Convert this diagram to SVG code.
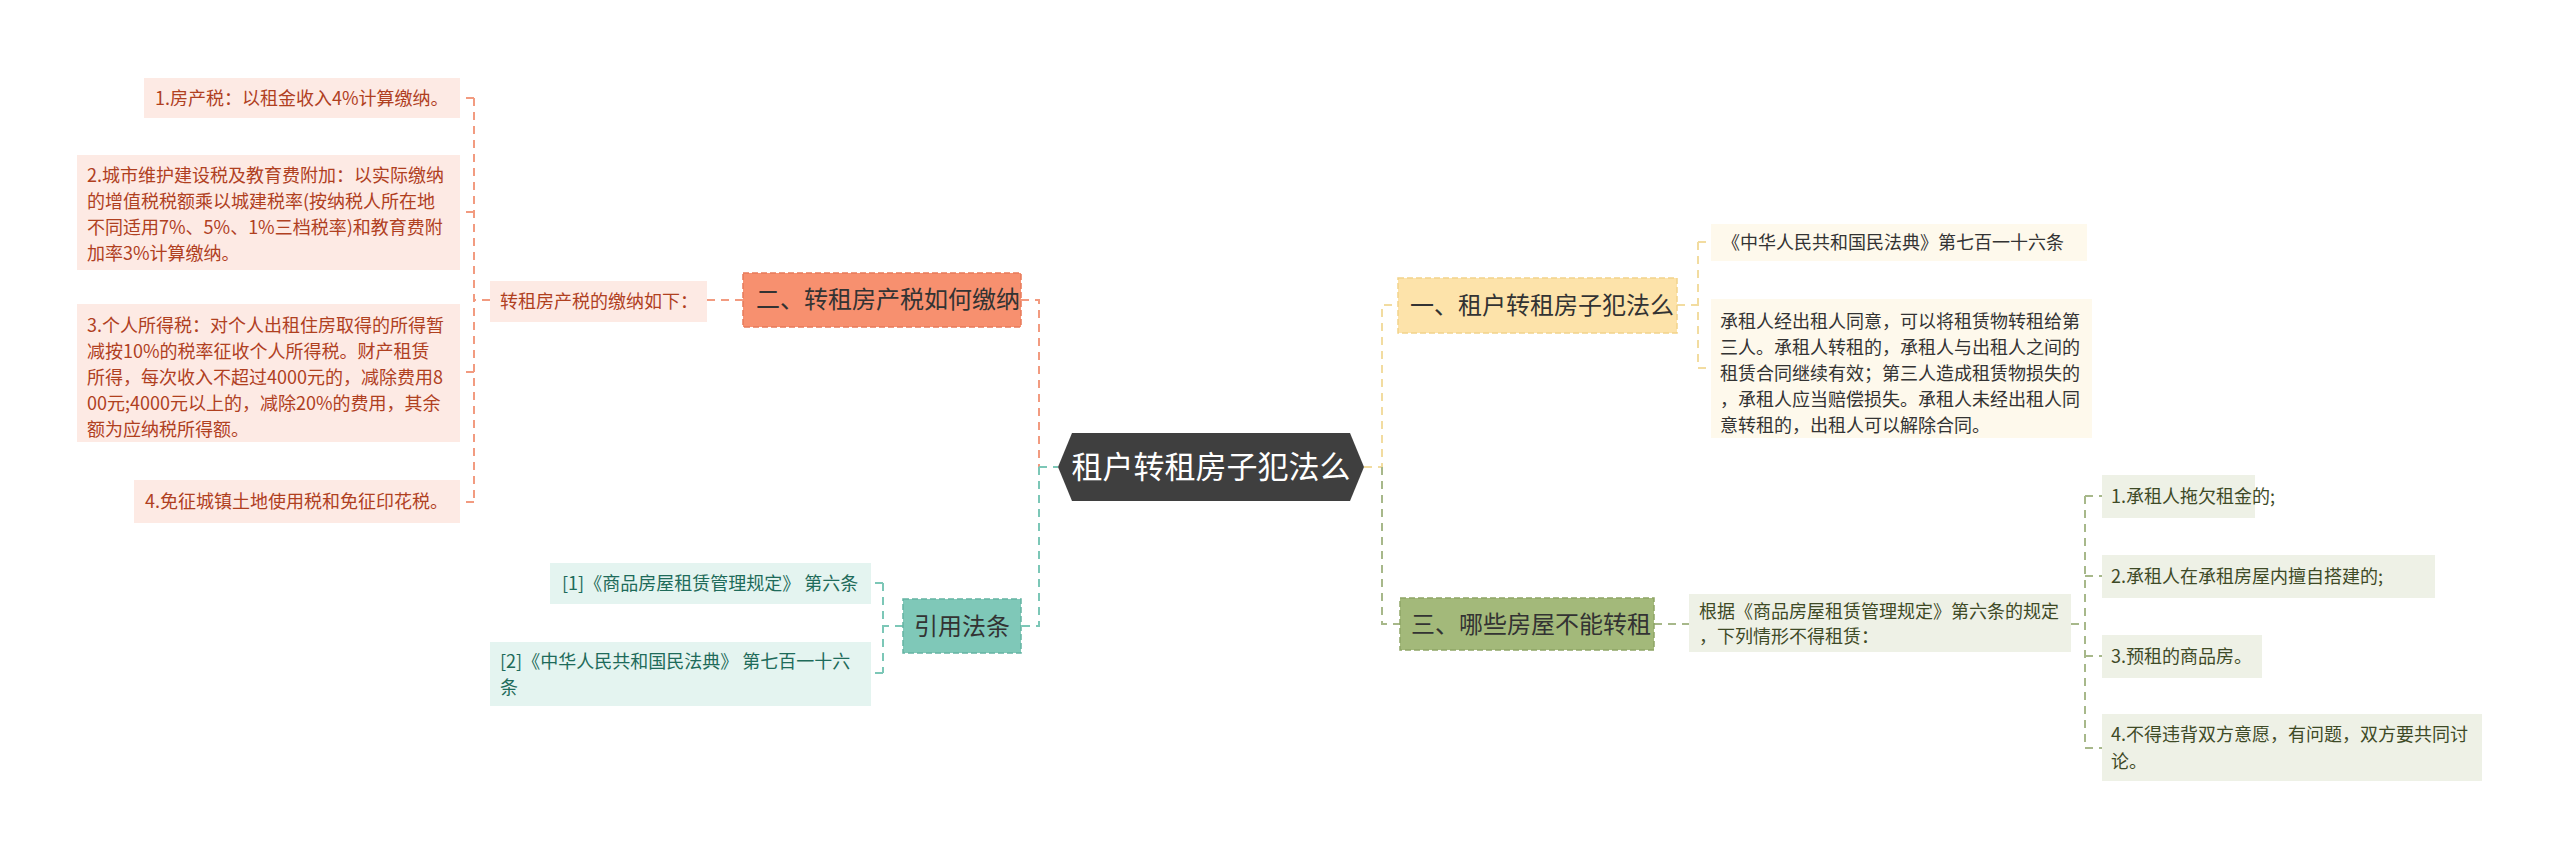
<svg xmlns="http://www.w3.org/2000/svg" width="2560" height="858" viewBox="0 0 2560 858">
<style>
text{font-family:"Noto Sans CJK SC","Liberation Sans",sans-serif}
.lf{font-size:18px}
.br{font-size:24px;fill:#333}
.c{fill:none;stroke-width:2;stroke-dasharray:8 6}
.o{stroke:#F29B80}.y{stroke:#F2DCA0}.g{stroke:#A7B88A}.t{stroke:#7CC7B7}
.bd{stroke-dasharray:6 3;stroke-width:1.5}
</style>
<rect width="2560" height="858" fill="#fff"/>
<g id="connectors">
<path class="c o" d="M1021 300H1039V467"/>
<path class="c t" d="M1039 467V626H1021M1039 467H1058"/>
<path class="c y" d="M1364 467H1382V305H1398"/>
<path class="c g" d="M1382 467V624H1400"/>
<path class="c o" d="M743 300H707"/>
<path class="c o" d="M490 300H474M474 98V502M474 98H460M474 212H460M474 372H460M474 502H460"/>
<path class="c y" d="M1677 305H1698M1698 242V368M1698 242H1711M1698 368H1711"/>
<path class="c g" d="M1654 624H1689"/>
<path class="c g" d="M2071 624H2085M2085 496V748M2085 496H2102M2085 576H2102M2085 656H2102M2085 748H2102"/>
<path class="c t" d="M903 626H883M883 583V673M883 583H871M883 673H871"/>
</g>
<g id="center">
<polygon points="1072,433 1350,433 1364,467 1350,501 1072,501 1058,467" fill="#3f3f3f"/>
<text x="1211" y="478" font-size="31" fill="#fff" text-anchor="middle">租户转租房子犯法么</text>
</g>
<g id="b2">
<rect x="743" y="273" width="278" height="54" fill="#F7906F" stroke="#E8795A" class="bd"/>
<text x="756" y="308" class="br">二、转租房产税如何缴纳</text>
</g>
<g id="b2sub">
<rect x="490" y="281" width="217" height="41" fill="#FDEAE4"/>
<text x="500" y="308" class="lf" fill="#B0401F">转租房产税的缴纳如下：</text>
</g>
<g id="l1">
<rect x="144" y="78" width="316" height="40" fill="#FDEAE4"/>
<text x="155" y="105" class="lf" fill="#B0401F">1.房产税：以租金收入4%计算缴纳。</text>
</g>
<g id="l2">
<rect x="77" y="155" width="383" height="115" fill="#FDEAE4"/>
<text class="lf" fill="#B0401F"><tspan x="87" y="182">2.城市维护建设税及教育费附加：以实际缴纳</tspan><tspan x="87" y="208">的增值税税额乘以城建税率(按纳税人所在地</tspan><tspan x="87" y="234">不同适用7%、5%、1%三档税率)和教育费附</tspan><tspan x="87" y="260">加率3%计算缴纳。</tspan></text>
</g>
<g id="l3">
<rect x="77" y="304" width="383" height="138" fill="#FDEAE4"/>
<text class="lf" fill="#B0401F"><tspan x="87" y="332">3.个人所得税：对个人出租住房取得的所得暂</tspan><tspan x="87" y="358">减按10%的税率征收个人所得税。财产租赁</tspan><tspan x="87" y="384">所得，每次收入不超过4000元的，减除费用8</tspan><tspan x="87" y="410">00元;4000元以上的，减除20%的费用，其余</tspan><tspan x="87" y="436">额为应纳税所得额。</tspan></text>
</g>
<g id="l4">
<rect x="134" y="480" width="326" height="43" fill="#FDEAE4"/>
<text x="145" y="508" class="lf" fill="#B0401F">4.免征城镇土地使用税和免征印花税。</text>
</g>
<g id="b1">
<rect x="1398" y="278" width="279" height="55" fill="#FDE3AA" stroke="#F2D38A" class="bd"/>
<text x="1410" y="314" class="br">一、租户转租房子犯法么</text>
</g>
<g id="r1">
<rect x="1711" y="224" width="376" height="37" fill="#FEF9EC"/>
<text x="1722" y="249" class="lf" fill="#333">《中华人民共和国民法典》第七百一十六条</text>
</g>
<g id="r2">
<rect x="1711" y="299" width="381" height="139" fill="#FEF9EC"/>
<text class="lf" fill="#333"><tspan x="1720" y="328">承租人经出租人同意，可以将租赁物转租给第</tspan><tspan x="1720" y="354">三人。承租人转租的，承租人与出租人之间的</tspan><tspan x="1720" y="380">租赁合同继续有效；第三人造成租赁物损失的</tspan><tspan x="1720" y="406">，承租人应当赔偿损失。承租人未经出租人同</tspan><tspan x="1720" y="432">意转租的，出租人可以解除合同。</tspan></text>
</g>
<g id="b3">
<rect x="1400" y="598" width="254" height="52" fill="#A3B97A" stroke="#8FA566" class="bd"/>
<text x="1411" y="633" class="br">三、哪些房屋不能转租</text>
</g>
<g id="b3sub">
<rect x="1689" y="594" width="382" height="58" fill="#EEF1E6"/>
<text class="lf" fill="#3E4A26"><tspan x="1699" y="618">根据《商品房屋租赁管理规定》第六条的规定</tspan><tspan x="1699" y="643">，下列情形不得租赁：</tspan></text>
</g>
<g id="g1">
<rect x="2102" y="475" width="153" height="43" fill="#EEF1E6"/>
<text x="2111" y="503" class="lf" fill="#3E4A26">1.承租人拖欠租金的;</text>
</g>
<g id="g2">
<rect x="2102" y="555" width="333" height="43" fill="#EEF1E6"/>
<text x="2111" y="583" class="lf" fill="#3E4A26">2.承租人在承租房屋内擅自搭建的;</text>
</g>
<g id="g3">
<rect x="2102" y="635" width="160" height="43" fill="#EEF1E6"/>
<text x="2111" y="663" class="lf" fill="#3E4A26">3.预租的商品房。</text>
</g>
<g id="g4">
<rect x="2102" y="714" width="380" height="67" fill="#EEF1E6"/>
<text class="lf" fill="#3E4A26"><tspan x="2111" y="741">4.不得违背双方意愿，有问题，双方要共同讨</tspan><tspan x="2111" y="768">论。</tspan></text>
</g>
<g id="b4">
<rect x="903" y="599" width="118" height="54" fill="#7FC8B8" stroke="#64B4A2" class="bd"/>
<text x="962" y="635" class="br" text-anchor="middle">引用法条</text>
</g>
<g id="c1">
<rect x="550" y="563" width="321" height="41" fill="#E4F4F0"/>
<text x="562" y="590" class="lf" fill="#1E6B5A">[1]《商品房屋租赁管理规定》 第六条</text>
</g>
<g id="c2">
<rect x="490" y="642" width="381" height="64" fill="#E4F4F0"/>
<text class="lf" fill="#1E6B5A"><tspan x="500" y="668">[2]《中华人民共和国民法典》 第七百一十六</tspan><tspan x="500" y="694">条</tspan></text>
</g>
</svg>
